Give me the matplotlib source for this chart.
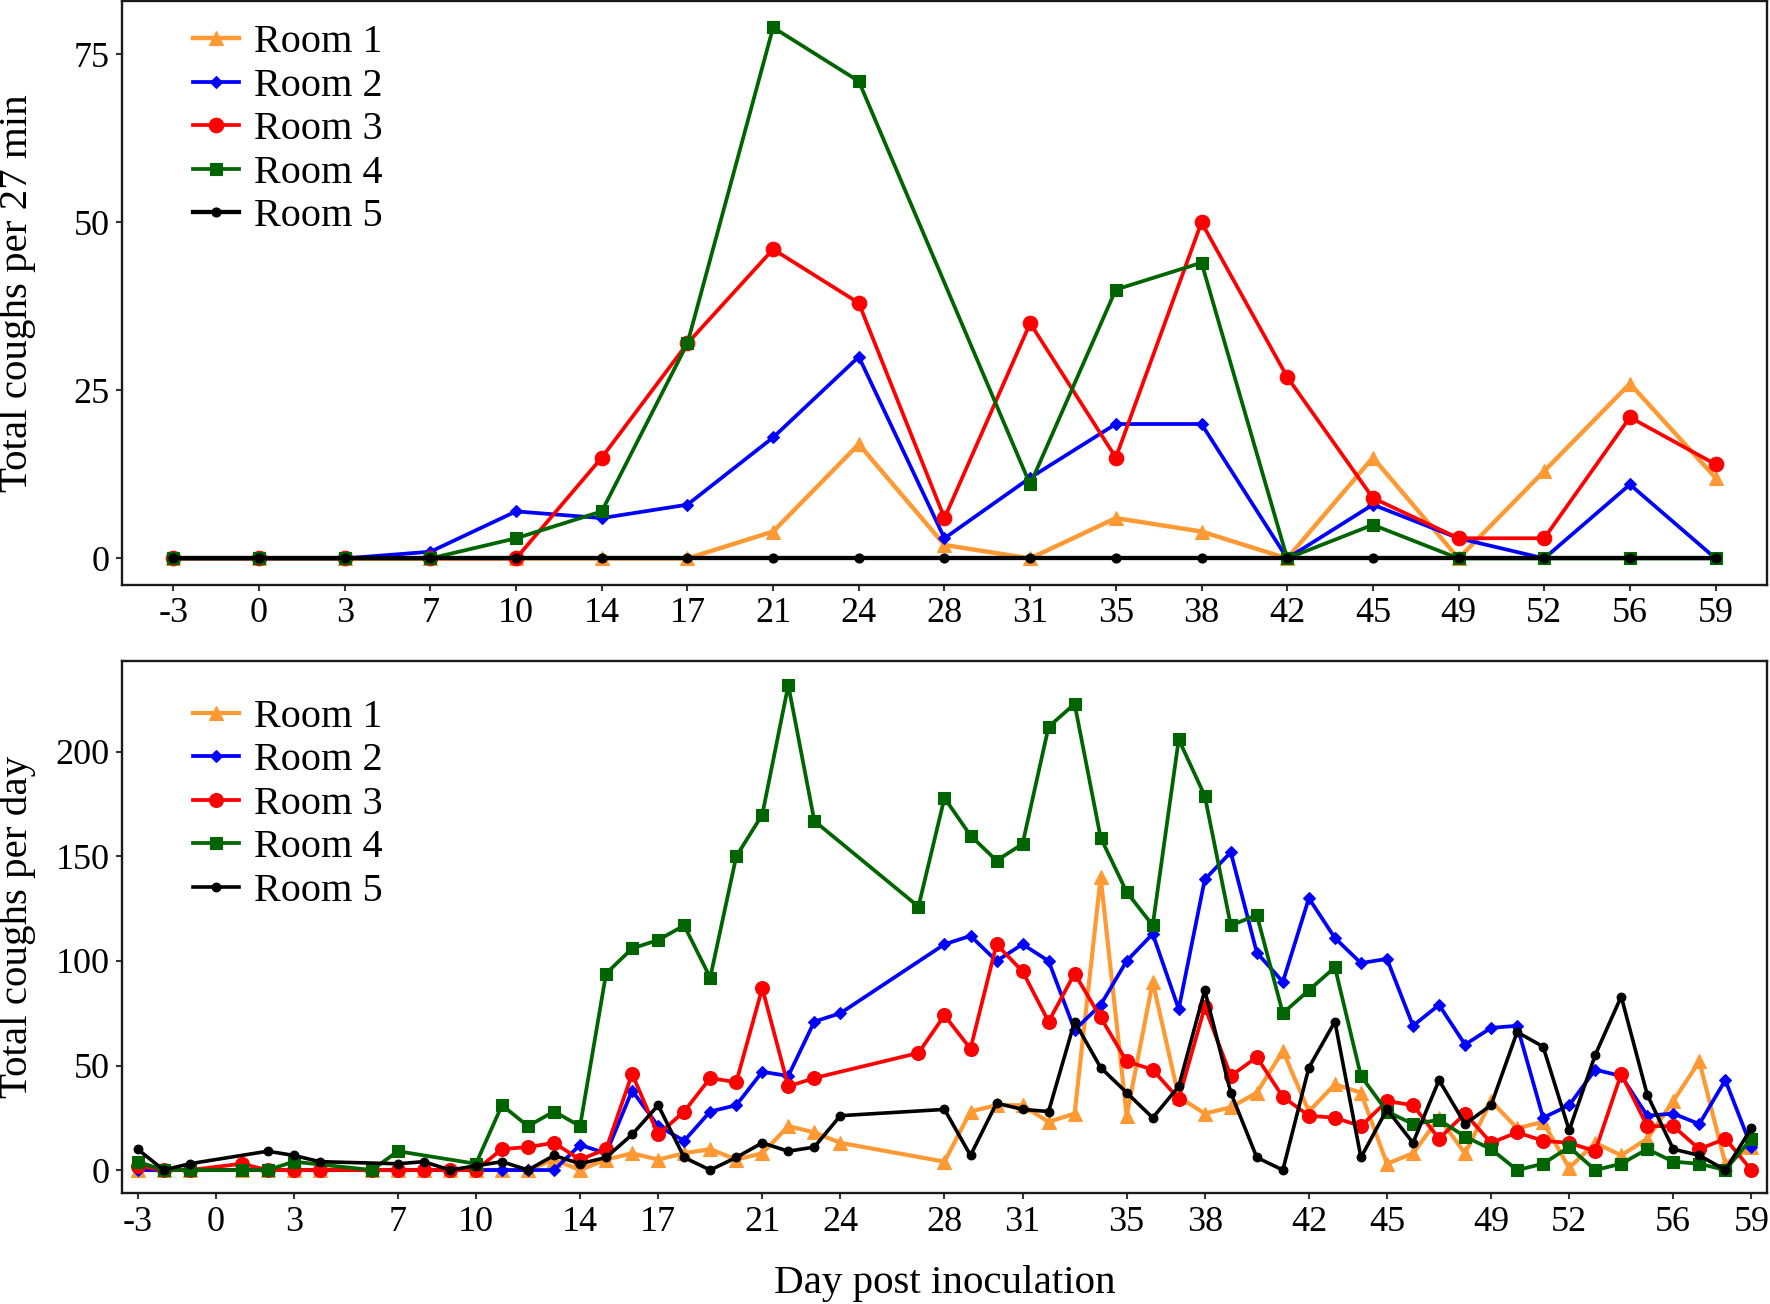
import matplotlib
matplotlib.use("Agg")
import matplotlib.pyplot as plt
import numpy as np

plt.rcParams['font.family'] = ['Liberation Serif', 'DejaVu Serif']

# ---------------- Top panel data (categorical days) ----------------
top_days = [-3, 0, 3, 7, 10, 14, 17, 21, 24, 28, 31, 35, 38, 42, 45, 49, 52, 56, 59]
top_room1 = [0, 0, 0, 0, 0, 0, 0, 4, 17, 2, 0, 6, 4, 0, 15, 0, 13, 26, 12]
top_room2 = [0, 0, 0, 1, 7, 6, 8, 18, 30, 3, 12, 20, 20, 0, 8, 3, 0, 11, 0]
top_room3 = [0, 0, 0, 0, 0, 15, 32, 46, 38, 6, 35, 15, 50, 27, 9, 3, 3, 21, 14]
top_room4_days = [-3, 0, 3, 7, 10, 14, 17, 21, 24, 31, 35, 38, 42, 45, 49, 52, 56, 59]
top_room4 = [0, 0, 0, 0, 3, 7, 32, 79, 71, 11, 40, 44, 0, 5, 0, 0, 0, 0]
top_room5 = [0] * 19

# ---------------- Bottom panel data (daily) ----------------
r1_days = [-3, -2, -1, 1, 2, 3, 4, 6, 7, 8, 9, 10, 11, 12, 13, 14, 15, 16, 17, 18, 19, 20,
           21, 22, 23, 24, 28, 29, 30, 31, 32, 33, 34, 35, 36, 37, 38, 39, 40, 41, 42, 43,
           44, 45, 46, 47, 48, 49, 50, 51, 52, 53, 54, 55, 56, 57, 58, 59]
r1_vals = [0, 0, 0, 0, 0, 0, 0, 0, 0, 0, 0, 0, 0, 0, 5, 0, 5, 8, 5, 8, 10, 5,
           8, 21, 18, 13, 4, 28, 31, 31, 23, 27, 140, 26, 90, 35, 27, 30, 37, 57, 28, 41,
           37, 3, 8, 25, 8, 33, 20, 23, 1, 13, 7, 15, 33, 52, 3, 11]

r2_days = [-3, -2, -1, 1, 2, 3, 4, 6, 7, 8, 9, 10, 11, 12, 13, 14, 15, 16, 17, 18, 19, 20,
           21, 22, 23, 24, 28, 29, 30, 31, 32, 33, 34, 35, 36, 37, 38, 39, 40, 41, 42, 43,
           44, 45, 46, 47, 48, 49, 50, 51, 52, 53, 54, 55, 56, 57, 58, 59]
r2_vals = [0, 0, 0, 0, 0, 0, 0, 0, 0, 0, 0, 0, 0, 0, 0, 12, 8, 38, 21, 14, 28, 31,
           47, 45, 71, 75, 108, 112, 100, 108, 100, 67, 79, 100, 113, 77, 139, 152, 104, 90, 130, 111,
           99, 101, 69, 79, 60, 68, 69, 25, 31, 48, 45, 26, 27, 22, 43, 11]

r3_days = [-3, -2, -1, 1, 2, 3, 4, 6, 7, 8, 9, 10, 11, 12, 13, 14, 15, 16, 17, 18, 19, 20,
           21, 22, 23, 27, 28, 29, 30, 31, 32, 33, 34, 35, 36, 37, 38, 39, 40, 41, 42, 43,
           44, 45, 46, 47, 48, 49, 50, 51, 52, 53, 54, 55, 56, 57, 58, 59]
r3_vals = [2, 0, 0, 3, 0, 0, 0, 0, 0, 0, 0, 0, 10, 11, 13, 5, 10, 46, 17, 28, 44, 42,
           87, 40, 44, 56, 74, 58, 108, 95, 71, 94, 73, 52, 48, 34, 78, 45, 54, 35, 26, 25,
           21, 33, 31, 15, 27, 13, 18, 14, 13, 9, 46, 21, 21, 10, 15, 0]

r4_days = [-3, -2, -1, 1, 2, 3, 6, 7, 10, 11, 12, 13, 14, 15, 16, 17, 18, 19, 20,
           21, 22, 23, 27, 28, 29, 30, 31, 32, 33, 34, 35, 36, 37, 38, 39, 40, 41, 42, 43,
           44, 45, 46, 47, 48, 49, 50, 51, 52, 53, 54, 55, 56, 57, 58, 59]
r4_vals = [4, 0, 0, 0, 0, 4, 0, 9, 3, 31, 21, 28, 21, 94, 106, 110, 117, 92, 150,
           170, 232, 167, 126, 178, 160, 148, 156, 212, 223, 159, 133, 117, 206, 179, 117, 122, 75, 86, 97,
           45, 28, 22, 24, 16, 10, 0, 3, 11, 0, 3, 10, 4, 3, 0, 15]

r5_days = [-3, -2, -1, 2, 3, 4, 7, 8, 9, 10, 11, 12, 13, 14, 15, 16, 17, 18, 19, 20,
           21, 22, 23, 24, 28, 29, 30, 31, 32, 33, 34, 35, 36, 37, 38, 39, 40, 41, 42, 43,
           44, 45, 46, 47, 48, 49, 50, 51, 52, 53, 54, 55, 56, 57, 58, 59]
r5_vals = [10, 0, 3, 9, 7, 4, 3, 4, 0, 2, 4, 0, 7, 3, 6, 17, 31, 6, 0, 6,
           13, 9, 11, 26, 29, 7, 32, 29, 28, 71, 49, 37, 25, 40, 86, 37, 6, 0, 49, 71,
           6, 29, 13, 43, 22, 31, 66, 59, 19, 55, 83, 36, 10, 7, 0, 20]

labels = ["Room 1", "Room 2", "Room 3", "Room 4", "Room 5"]
colors = ["#FF9933", "#0000FF", "#FF0000", "#006400", "#000000"]
markers = ["^", "D", "o", "s", "o"]
msizes_top = [10.5, 6.3, 10.5, 9, 6.5]
msizes_bot = [10, 6, 10, 9, 6.3]
lws_top = [3.2, 2.7, 2.7, 2.7, 3.1]
lws_bot = [3.0, 2.7, 2.7, 2.7, 2.6]

xtick_labels = ["-3", "0", "3", "7", "10", "14", "17", "21", "24", "28", "31", "35",
                "38", "42", "45", "49", "52", "56", "59"]

fig = plt.figure(figsize=(17.7, 13.04), dpi=100)
ax1 = fig.add_axes([0.0689, 0.5514, 0.9294, 0.4479])
ax2 = fig.add_axes([0.0689, 0.0851, 0.9294, 0.4080])

# ---- top ----
pos = {d: i for i, d in enumerate(top_days)}
top_series = [
    ([pos[d] for d in top_days], top_room1),
    ([pos[d] for d in top_days], top_room2),
    ([pos[d] for d in top_days], top_room3),
    ([pos[d] for d in top_room4_days], top_room4),
    ([pos[d] for d in top_days], top_room5),
]
for k, (xs, ys) in enumerate(top_series):
    ax1.plot(xs, ys, color=colors[k], marker=markers[k], markersize=msizes_top[k],
             linewidth=lws_top[k], label=labels[k], zorder=3 + k,
             markeredgewidth=0.8, markeredgecolor=colors[k])
ax1.set_xlim(-0.6, 18.6)
ax1.set_ylim(-3.95, 82.95)
ax1.set_xticks(range(len(top_days)))
ax1.set_xticklabels(xtick_labels)
ax1.set_yticks([0, 25, 50, 75])
ax1.set_ylabel("Total coughs per 27 min", fontsize=29.5)

# ---- bottom ----
bot_series = [(r1_days, r1_vals), (r2_days, r2_vals), (r3_days, r3_vals),
              (r4_days, r4_vals), (r5_days, r5_vals)]
for k, (xs, ys) in enumerate(bot_series):
    ax2.plot(xs, ys, color=colors[k], marker=markers[k], markersize=msizes_bot[k],
             linewidth=lws_bot[k], label=labels[k], zorder=3 + k,
             markeredgewidth=0.8, markeredgecolor=colors[k])
ax2.set_xlim(-3.6, 59.6)
ax2.set_ylim(-11, 243.5)
ax2.set_xticks([int(t) for t in xtick_labels])
ax2.set_xticklabels(xtick_labels)
ax2.set_yticks([0, 50, 100, 150, 200])
ax2.set_ylabel("Total coughs per day", fontsize=29.5)
ax2.set_xlabel("Day post inoculation", fontsize=29.5, labelpad=19)

for ax in (ax1, ax2):
    ax.yaxis.set_label_coords(-0.052, 0.5)
    for s in ax.spines.values():
        s.set_linewidth(1.7)
        s.set_color("#1a1a1a")
    ax.tick_params(axis="both", labelsize=26, length=4, width=1.5, pad=5,
                   colors="#333333", labelcolor="black")

leg_kw = dict(loc="upper left", frameon=False, fontsize=29, handlelength=1.14,
              handletextpad=0.37, labelspacing=0.156, borderpad=0, borderaxespad=0)
ax1.legend(bbox_to_anchor=(0.043, 0.96), **leg_kw)
ax2.legend(bbox_to_anchor=(0.043, 0.929), **leg_kw)

fig.savefig("out.png", dpi=100)
